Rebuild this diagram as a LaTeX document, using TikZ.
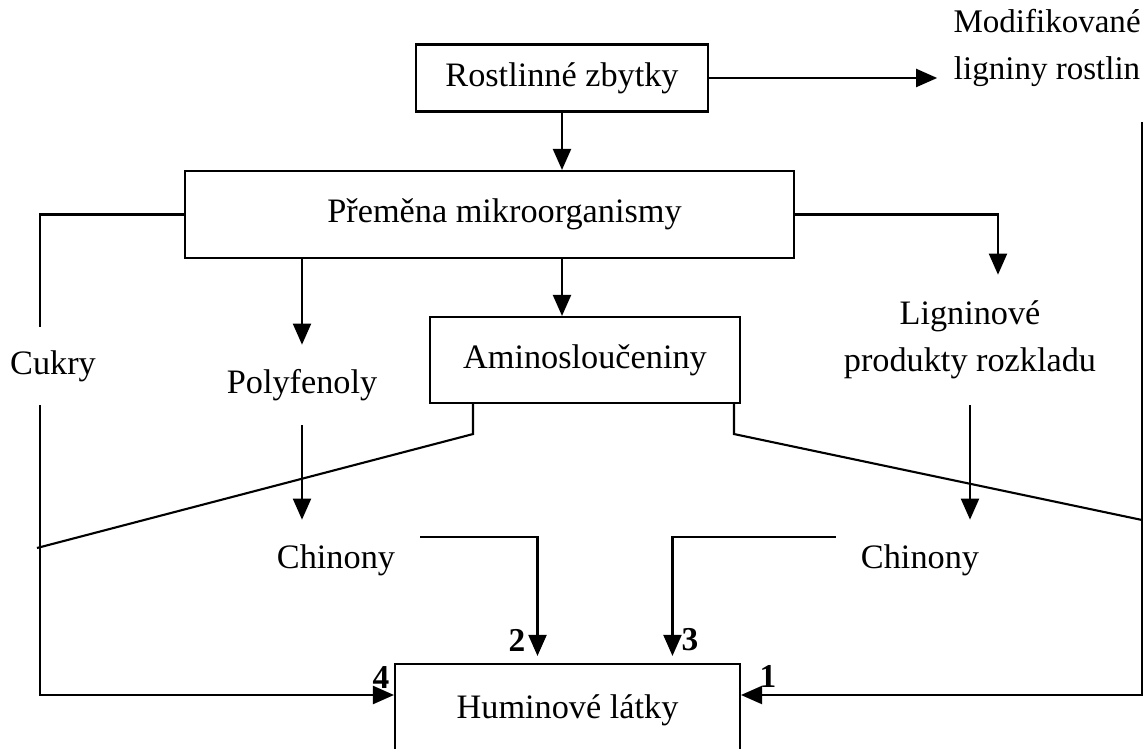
\documentclass[tikz,border=0pt]{standalone}
\usepackage{fontspec}
\setmainfont{Liberation Serif}
\usetikzlibrary{arrows.meta,positioning,calc}
\tikzset{
  boxnd/.style={draw, line width=1.2pt, inner sep=0pt},
  lblnd/.style={inner xsep=0.5cm, inner ysep=0pt, minimum height=1.6cm, align=center},
  conn/.style={line width=1.2pt},
  arr/.style={conn, -{Triangle[length=4.2mm,width=3.6mm]}},
  numlbl/.style={font=\fontsize{19}{20}\selectfont\bfseries},
}

\begin{document}
\begin{tikzpicture}[x=0.02cm, y=-0.02cm,
    every node/.style={font=\fontsize{19.5}{26.7}\selectfont}]
    \clip (0,0) rectangle (1144,749);
    % boxes
    \node[boxnd, minimum width=5.84cm, minimum height=1.34cm] (rost) at (562,78) {Rostlinné zbytky};
    \node[boxnd, minimum width=12.18cm, minimum height=1.74cm] (prem) at (489.5,214.5) {\hspace{0.6cm}Přeměna mikroorganismy};
    \node[boxnd, minimum width=6.2cm, minimum height=1.72cm] (amino) at (585,360) {Aminosloučeniny};
    \node[boxnd, minimum width=6.9cm, minimum height=1.84cm] (humin) at (567.5,710) {Huminové látky};
    % plain labels
    \node[align=center, inner sep=0pt, anchor=east, font=\fontsize{18.8}{26.7}\selectfont] (modif) at (1141,48) {Modifikované\\ligniny rostlin};
    \node[minimum height=1.56cm, inner sep=0pt] (cukry) at (53,366) {Cukry};
    \node[lblnd] (polyf) at (302,385) {Polyfenoly};
    \node[lblnd] (chinL) at (336,560) {Chinony};
    \node[lblnd, minimum height=2.6cm] (lignin) at (970,340) {Ligninové\\produkty rozkladu};
    \node[lblnd] (chinR) at (920,560) {Chinony};
    % connectors
    \draw[arr] (rost.east) -- ($(rost.east -| modif.west)+(-16,0)$);
    \draw[arr] (rost.south) -- (rost.south |- prem.north);
    \draw[arr] (rost.south |- prem.south) -- (rost.south |- amino.north);
    \draw[arr] (polyf.north |- prem.south) -- (polyf.north);
    \draw[arr] (prem.east) -| ([xshift=0.56cm]lignin.north);
    \draw[conn] (prem.west) -| ([xshift=-0.26cm]cukry.north);
    \draw[arr] ([xshift=-0.26cm]cukry.south) |- ([yshift=0.3cm]humin.west);
    \draw[arr] (polyf.south) -- (polyf.south |- chinL.north);
    \draw[arr] (lignin.south) -- (lignin.south |- chinR.north);
    \draw[arr, shorten >=4pt] ([yshift=0.46cm]chinL.east) -| ([xshift=-0.6cm]humin.north);
    \draw[arr, shorten >=4pt] ([yshift=0.46cm]chinR.west) -| ([xshift=2.1cm]humin.north);
    % amino side lines
    \coordinate (dl) at (37,548);
    \coordinate (dr) at (1142,520);
    \draw[conn] ([xshift=-2.24cm]amino.south) -- ++(0,30) -- (dl);
    \draw[conn] ([xshift=2.98cm]amino.south) -- ++(0,30) -- (dr);
    \coordinate (rtop) at (1142,122);
    \draw[arr] (rtop) |- ([yshift=0.3cm]humin.east);
    % numbers
    \node[numlbl] (n2) at (517,640) {2};
    \node[numlbl] (n3) at (690,640) {3};
    \node[numlbl] (n4) at (381,678) {4};
    \node[numlbl] (n1) at (768,676) {1};
\end{tikzpicture}
\end{document}
